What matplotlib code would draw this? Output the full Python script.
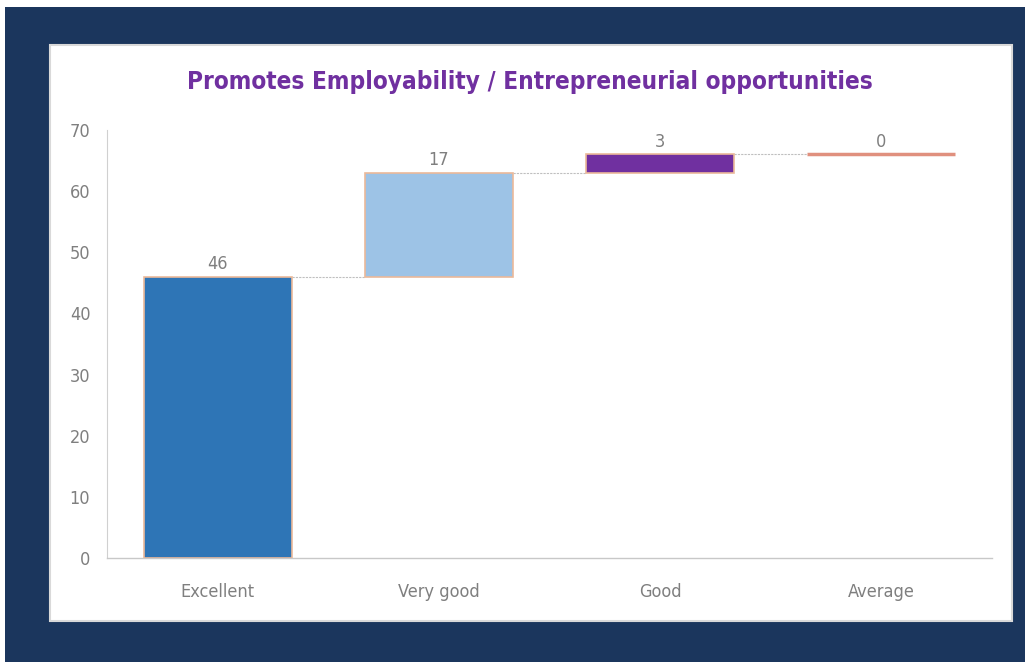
import numpy as np
import matplotlib.pyplot as plt
from matplotlib.patches import Rectangle

# data
categories = ['Excellent', 'Very good', 'Good', 'Average']
values = [46, 17, 3, 0]
colors = ['#2E75B6', '#9DC3E6', '#7030A0', '#E0907E']
y_ticks = [0, 10, 20, 30, 40, 50, 60, 70]

W, H = 1025, 662
fig = plt.figure(figsize=(W / 100, H / 100), dpi=100)
fig.patch.set_facecolor('white')

# navy frame and white chart panel
fig.patches.append(Rectangle((5 / W, 0), 1 - 5 / W, 1 - 7 / H, transform=fig.transFigure,
                             facecolor='#1B365D', edgecolor='none', zorder=0))
fig.patches.append(Rectangle((50 / W, 1 - 621 / H), 962 / W, 576 / H, transform=fig.transFigure,
                             facecolor='white', edgecolor='#D9D9D9', linewidth=1.5, zorder=1))

ax = fig.add_axes([107 / W, 1 - 558 / H, 885 / W, 428 / H])
ax.set_zorder(5)
ax.set_facecolor('none')

x = np.arange(len(categories))
bottoms = np.concatenate([[0], np.cumsum(values)[:-1]])
tops = bottoms + np.array(values)
width = 0.67
lblfont = dict(family='DejaVu Sans', stretch='condensed')

for i in range(len(categories)):
    if values[i] == 0:
        ax.plot([x[i] - width / 2, x[i] + width / 2], [bottoms[i], bottoms[i]],
                color=colors[i], linewidth=2.5, solid_capstyle='butt', zorder=3)
    else:
        ax.bar(x[i], values[i], width=width, bottom=bottoms[i], color=colors[i],
               edgecolor='#EBB99A', linewidth=1.2, zorder=3)
    ax.text(x[i], tops[i] + 0.6, str(values[i]), ha='center', va='bottom',
            fontsize=13, color='#7F7F7F', **lblfont)
    # connector to the next bar
    if i < len(categories) - 1:
        ax.plot([x[i] + width / 2, x[i + 1] - width / 2], [tops[i], tops[i]],
                color='#BFBFBF', linewidth=0.8, linestyle=(0, (2, 1)), zorder=2)

ax.set_xlim(-0.5, 3.5)
ax.set_ylim(0, 70)
ax.set_yticks(y_ticks)
ax.set_xticks(x)
ax.set_xticklabels(categories)
for lab in ax.get_xticklabels() + ax.get_yticklabels():
    lab.set_family('DejaVu Sans')
    lab.set_stretch('condensed')
    lab.set_fontsize(13)
    lab.set_color('#7F7F7F')
ax.tick_params(axis='both', length=0)
ax.tick_params(axis='x', pad=18)
ax.tick_params(axis='y', pad=12)

for s in ['top', 'right']:
    ax.spines[s].set_visible(False)
ax.spines['left'].set_color('#D0D0D0')
ax.spines['left'].set_linestyle((0, (2, 1)))
ax.spines['left'].set_linewidth(0.8)
ax.spines['bottom'].set_color('#C8C8C8')
ax.spines['bottom'].set_linewidth(1.0)

fig.text(530 / W, 1 - 82 / H, 'Promotes Employability / Entrepreneurial opportunities',
         ha='center', va='center', fontsize=17.5, fontweight='heavy', color='#7030A0',
         family='DejaVu Sans', stretch='condensed')

fig.savefig('out.png', dpi=100)
